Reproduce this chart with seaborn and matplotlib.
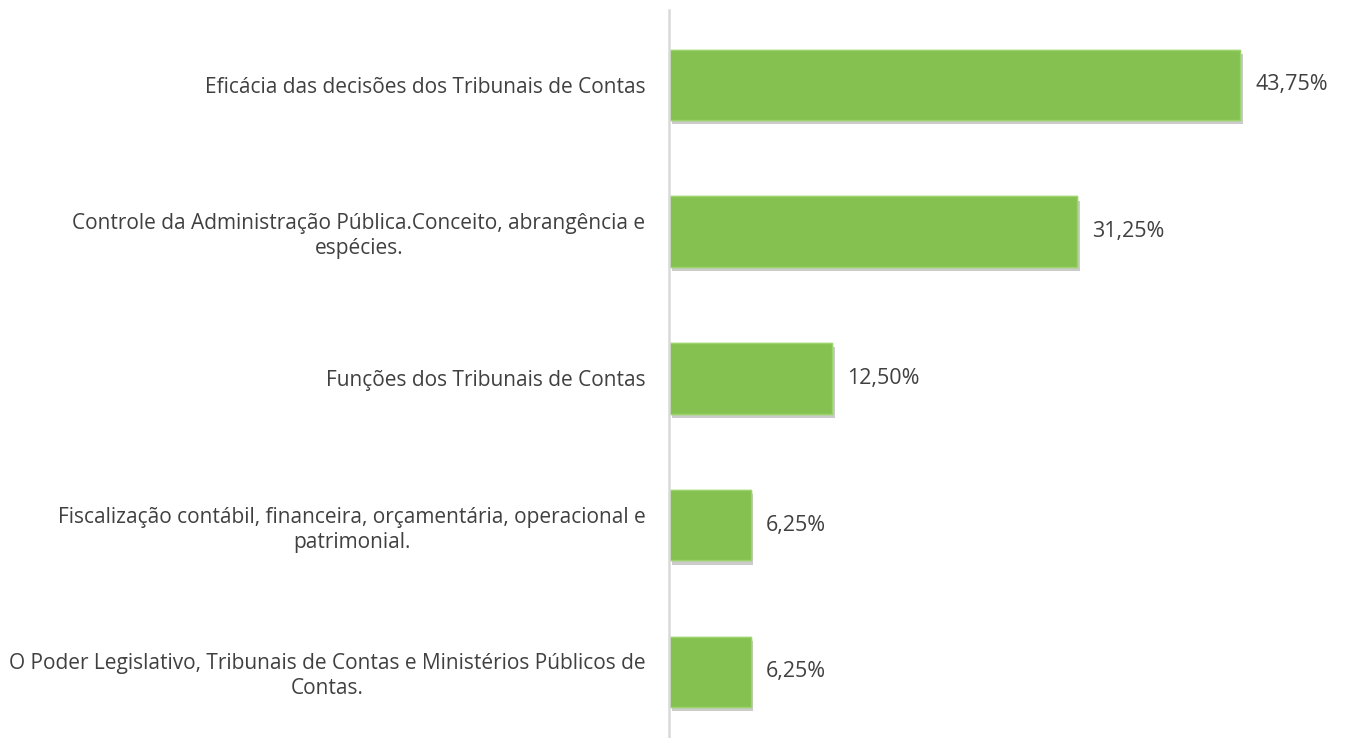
import numpy as np
import pandas as pd
import matplotlib
matplotlib.use('Agg')
import matplotlib.pyplot as plt
import matplotlib.patheffects as pe
import seaborn as sns

temas = ['Eficácia das decisões dos Tribunais de Contas',
         'Controle da Administração Pública.Conceito, abrangência e\nespécies.',
         'Funções dos Tribunais de Contas',
         'Fiscalização contábil, financeira, orçamentária, operacional e\npatrimonial.',
         'O Poder Legislativo, Tribunais de Contas e Ministérios Públicos de\nContas.']
percentuais = [43.75, 31.25, 12.50, 6.25, 6.25]
rotulos = ['43,75%', '31,25%', '12,50%', '6,25%', '6,25%']

df = pd.DataFrame({'tema': temas, 'pct': percentuais})

sns.set_style('white')
plt.rcParams['font.family'] = ['Open Sans', 'DejaVu Sans']

fig = plt.figure(figsize=(13.47, 7.38), dpi=100)
ax = fig.add_axes([0.4967, 0.0, 0.4843, 0.9864])

sns.barplot(data=df, x='pct', y='tema', color='#84c151', saturation=1, width=0.48, ax=ax)
for p in ax.patches:
    p.set_edgecolor('#9bd46a')
    p.set_linewidth(1)
    p.set_path_effects([pe.withSimplePatchShadow(offset=(2, -3), shadow_rgbFace='#555555', alpha=0.3), pe.Normal()])

for p, r in zip(ax.patches, rotulos):
    ax.annotate(r, (p.get_width(), p.get_y() + p.get_height() / 2), xytext=(11, 0),
                textcoords='offset points', va='center', ha='left', fontsize=15.5, color='#404040')

ax.set_xlim(0, 50)
ax.set_ylim(4.45, -0.51)
ax.set_xlabel('')
ax.set_ylabel('')
ax.set_xticks([])
for s in ['top', 'right', 'bottom']:
    ax.spines[s].set_visible(False)
ax.spines['left'].set_color('#d9d9d9')
ax.spines['left'].set_linewidth(1.8)
ax.tick_params(axis='y', length=0, pad=17, labelsize=15, labelcolor='#404040')
for t in ax.get_yticklabels():
    t.set_multialignment('center')
    t.set_linespacing(1.25)

fig.savefig('out.png', dpi=100)
